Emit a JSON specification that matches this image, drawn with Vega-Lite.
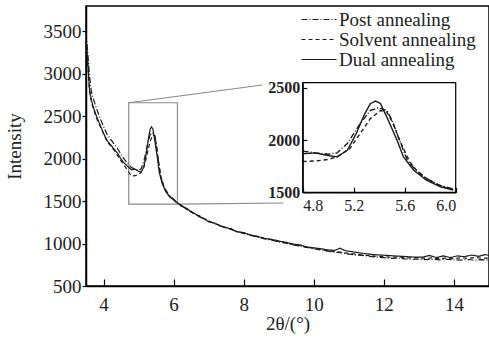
{
  "$schema": "https://vega.github.io/schema/vega-lite/v6.json",
  "width": 403,
  "height": 280,
  "autosize": {"type": "none"},
  "padding": {"left": 86, "top": 6, "right": 0, "bottom": 54},
  "background": "white",
  "config": {
    "font": "Liberation Serif",
    "view": {"stroke": "black", "strokeWidth": 1.5},
    "axis": {"grid": false, "domainColor": "black", "domainWidth": 1.5, "tickColor": "black", "tickWidth": 1.2, "labelColor": "#222", "titleColor": "#222", "labelFont": "Liberation Serif", "titleFont": "Liberation Serif", "titleFontWeight": "normal"},
    "legend": {"labelFont": "Liberation Serif", "padding": 0}
  },
  "datasets": {
    "curves": [
      {"x":3.5,"y":3420,"s":"Dual annealing"},{"x":3.55,"y":3150,"s":"Dual annealing"},{"x":3.6,"y":2820,"s":"Dual annealing"},{"x":3.65,"y":2700,"s":"Dual annealing"},{"x":3.7,"y":2620,"s":"Dual annealing"},{"x":3.8,"y":2500,"s":"Dual annealing"},{"x":3.9,"y":2400,"s":"Dual annealing"},{"x":4.0,"y":2300,"s":"Dual annealing"},{"x":4.1,"y":2215,"s":"Dual annealing"},{"x":4.2,"y":2165,"s":"Dual annealing"},{"x":4.3,"y":2115,"s":"Dual annealing"},{"x":4.4,"y":2065,"s":"Dual annealing"},{"x":4.5,"y":1995,"s":"Dual annealing"},{"x":4.6,"y":1945,"s":"Dual annealing"},{"x":4.7,"y":1905,"s":"Dual annealing"},{"x":4.8,"y":1870,"s":"Dual annealing"},{"x":4.9,"y":1877,"s":"Dual annealing"},{"x":5.0,"y":1852,"s":"Dual annealing"},{"x":5.07,"y":1839,"s":"Dual annealing"},{"x":5.15,"y":1903,"s":"Dual annealing"},{"x":5.22,"y":2062,"s":"Dual annealing"},{"x":5.28,"y":2236,"s":"Dual annealing"},{"x":5.33,"y":2348,"s":"Dual annealing"},{"x":5.37,"y":2375,"s":"Dual annealing"},{"x":5.41,"y":2350,"s":"Dual annealing"},{"x":5.46,"y":2220,"s":"Dual annealing"},{"x":5.5,"y":2110,"s":"Dual annealing"},{"x":5.54,"y":1998,"s":"Dual annealing"},{"x":5.59,"y":1840,"s":"Dual annealing"},{"x":5.67,"y":1712,"s":"Dual annealing"},{"x":5.77,"y":1617,"s":"Dual annealing"},{"x":5.88,"y":1553,"s":"Dual annealing"},{"x":5.98,"y":1522,"s":"Dual annealing"},{"x":6.1,"y":1480,"s":"Dual annealing"},{"x":6.2,"y":1455,"s":"Dual annealing"},{"x":6.3,"y":1430,"s":"Dual annealing"},{"x":6.4,"y":1410,"s":"Dual annealing"},{"x":6.5,"y":1370,"s":"Dual annealing"},{"x":6.6,"y":1355,"s":"Dual annealing"},{"x":6.75,"y":1310,"s":"Dual annealing"},{"x":6.9,"y":1290,"s":"Dual annealing"},{"x":7.0,"y":1255,"s":"Dual annealing"},{"x":7.15,"y":1245,"s":"Dual annealing"},{"x":7.3,"y":1215,"s":"Dual annealing"},{"x":7.5,"y":1190,"s":"Dual annealing"},{"x":7.65,"y":1170,"s":"Dual annealing"},{"x":7.8,"y":1140,"s":"Dual annealing"},{"x":8.0,"y":1130,"s":"Dual annealing"},{"x":8.2,"y":1100,"s":"Dual annealing"},{"x":8.4,"y":1085,"s":"Dual annealing"},{"x":8.6,"y":1060,"s":"Dual annealing"},{"x":8.8,"y":1050,"s":"Dual annealing"},{"x":9.0,"y":1030,"s":"Dual annealing"},{"x":9.2,"y":1015,"s":"Dual annealing"},{"x":9.4,"y":995,"s":"Dual annealing"},{"x":9.6,"y":985,"s":"Dual annealing"},{"x":9.8,"y":960,"s":"Dual annealing"},{"x":10.0,"y":950,"s":"Dual annealing"},{"x":10.2,"y":940,"s":"Dual annealing"},{"x":10.4,"y":925,"s":"Dual annealing"},{"x":10.6,"y":920,"s":"Dual annealing"},{"x":10.75,"y":945,"s":"Dual annealing"},{"x":10.9,"y":915,"s":"Dual annealing"},{"x":11.1,"y":905,"s":"Dual annealing"},{"x":11.3,"y":890,"s":"Dual annealing"},{"x":11.5,"y":880,"s":"Dual annealing"},{"x":11.7,"y":870,"s":"Dual annealing"},{"x":11.9,"y":865,"s":"Dual annealing"},{"x":12.1,"y":860,"s":"Dual annealing"},{"x":12.3,"y":855,"s":"Dual annealing"},{"x":12.5,"y":850,"s":"Dual annealing"},{"x":12.7,"y":845,"s":"Dual annealing"},{"x":12.9,"y":840,"s":"Dual annealing"},{"x":13.1,"y":840,"s":"Dual annealing"},{"x":13.3,"y":860,"s":"Dual annealing"},{"x":13.5,"y":835,"s":"Dual annealing"},{"x":13.7,"y":855,"s":"Dual annealing"},{"x":13.9,"y":835,"s":"Dual annealing"},{"x":14.1,"y":855,"s":"Dual annealing"},{"x":14.3,"y":845,"s":"Dual annealing"},{"x":14.5,"y":865,"s":"Dual annealing"},{"x":14.7,"y":850,"s":"Dual annealing"},{"x":14.9,"y":870,"s":"Dual annealing"},{"x":15.0,"y":860,"s":"Dual annealing"},

      {"x":3.5,"y":3480,"s":"Post annealing"},{"x":3.55,"y":3250,"s":"Post annealing"},{"x":3.6,"y":2980,"s":"Post annealing"},{"x":3.65,"y":2800,"s":"Post annealing"},{"x":3.7,"y":2720,"s":"Post annealing"},{"x":3.8,"y":2590,"s":"Post annealing"},{"x":3.9,"y":2480,"s":"Post annealing"},{"x":4.0,"y":2380,"s":"Post annealing"},{"x":4.1,"y":2290,"s":"Post annealing"},{"x":4.2,"y":2230,"s":"Post annealing"},{"x":4.3,"y":2175,"s":"Post annealing"},{"x":4.4,"y":2120,"s":"Post annealing"},{"x":4.5,"y":2050,"s":"Post annealing"},{"x":4.6,"y":1990,"s":"Post annealing"},{"x":4.7,"y":1940,"s":"Post annealing"},{"x":4.8,"y":1895,"s":"Post annealing"},{"x":4.9,"y":1878,"s":"Post annealing"},{"x":5.0,"y":1865,"s":"Post annealing"},{"x":5.07,"y":1878,"s":"Post annealing"},{"x":5.15,"y":1967,"s":"Post annealing"},{"x":5.25,"y":2157,"s":"Post annealing"},{"x":5.33,"y":2284,"s":"Post annealing"},{"x":5.39,"y":2309,"s":"Post annealing"},{"x":5.46,"y":2284,"s":"Post annealing"},{"x":5.5,"y":2190,"s":"Post annealing"},{"x":5.54,"y":2062,"s":"Post annealing"},{"x":5.62,"y":1808,"s":"Post annealing"},{"x":5.67,"y":1735,"s":"Post annealing"},{"x":5.77,"y":1632,"s":"Post annealing"},{"x":5.88,"y":1565,"s":"Post annealing"},{"x":5.98,"y":1532,"s":"Post annealing"},{"x":6.1,"y":1485,"s":"Post annealing"},{"x":6.2,"y":1450,"s":"Post annealing"},{"x":6.3,"y":1425,"s":"Post annealing"},{"x":6.4,"y":1400,"s":"Post annealing"},{"x":6.5,"y":1375,"s":"Post annealing"},{"x":6.6,"y":1350,"s":"Post annealing"},{"x":6.75,"y":1320,"s":"Post annealing"},{"x":6.9,"y":1280,"s":"Post annealing"},{"x":7.0,"y":1265,"s":"Post annealing"},{"x":7.15,"y":1240,"s":"Post annealing"},{"x":7.3,"y":1210,"s":"Post annealing"},{"x":7.5,"y":1185,"s":"Post annealing"},{"x":7.65,"y":1165,"s":"Post annealing"},{"x":7.8,"y":1145,"s":"Post annealing"},{"x":8.0,"y":1120,"s":"Post annealing"},{"x":8.2,"y":1095,"s":"Post annealing"},{"x":8.4,"y":1075,"s":"Post annealing"},{"x":8.6,"y":1055,"s":"Post annealing"},{"x":8.8,"y":1040,"s":"Post annealing"},{"x":9.0,"y":1020,"s":"Post annealing"},{"x":9.2,"y":1005,"s":"Post annealing"},{"x":9.4,"y":985,"s":"Post annealing"},{"x":9.6,"y":970,"s":"Post annealing"},{"x":9.8,"y":955,"s":"Post annealing"},{"x":10.0,"y":940,"s":"Post annealing"},{"x":10.2,"y":925,"s":"Post annealing"},{"x":10.4,"y":910,"s":"Post annealing"},{"x":10.6,"y":900,"s":"Post annealing"},{"x":10.8,"y":890,"s":"Post annealing"},{"x":11.0,"y":875,"s":"Post annealing"},{"x":11.2,"y":865,"s":"Post annealing"},{"x":11.4,"y":860,"s":"Post annealing"},{"x":11.6,"y":850,"s":"Post annealing"},{"x":11.8,"y":840,"s":"Post annealing"},{"x":12.0,"y":835,"s":"Post annealing"},{"x":12.2,"y":825,"s":"Post annealing"},{"x":12.4,"y":830,"s":"Post annealing"},{"x":12.6,"y":820,"s":"Post annealing"},{"x":12.8,"y":815,"s":"Post annealing"},{"x":13.0,"y":818,"s":"Post annealing"},{"x":13.2,"y":810,"s":"Post annealing"},{"x":13.4,"y":815,"s":"Post annealing"},{"x":13.6,"y":808,"s":"Post annealing"},{"x":13.8,"y":815,"s":"Post annealing"},{"x":14.0,"y":810,"s":"Post annealing"},{"x":14.2,"y":805,"s":"Post annealing"},{"x":14.4,"y":812,"s":"Post annealing"},{"x":14.6,"y":805,"s":"Post annealing"},{"x":14.8,"y":810,"s":"Post annealing"},{"x":15.0,"y":805,"s":"Post annealing"},

      {"x":3.5,"y":3380,"s":"Solvent annealing"},{"x":3.55,"y":3100,"s":"Solvent annealing"},{"x":3.6,"y":2790,"s":"Solvent annealing"},{"x":3.65,"y":2680,"s":"Solvent annealing"},{"x":3.7,"y":2600,"s":"Solvent annealing"},{"x":3.8,"y":2480,"s":"Solvent annealing"},{"x":3.9,"y":2385,"s":"Solvent annealing"},{"x":4.0,"y":2295,"s":"Solvent annealing"},{"x":4.1,"y":2205,"s":"Solvent annealing"},{"x":4.2,"y":2150,"s":"Solvent annealing"},{"x":4.3,"y":2100,"s":"Solvent annealing"},{"x":4.4,"y":2040,"s":"Solvent annealing"},{"x":4.5,"y":1975,"s":"Solvent annealing"},{"x":4.6,"y":1915,"s":"Solvent annealing"},{"x":4.7,"y":1855,"s":"Solvent annealing"},{"x":4.8,"y":1795,"s":"Solvent annealing"},{"x":4.9,"y":1800,"s":"Solvent annealing"},{"x":5.0,"y":1815,"s":"Solvent annealing"},{"x":5.07,"y":1839,"s":"Solvent annealing"},{"x":5.17,"y":1919,"s":"Solvent annealing"},{"x":5.25,"y":2062,"s":"Solvent annealing"},{"x":5.33,"y":2205,"s":"Solvent annealing"},{"x":5.41,"y":2284,"s":"Solvent annealing"},{"x":5.46,"y":2268,"s":"Solvent annealing"},{"x":5.51,"y":2157,"s":"Solvent annealing"},{"x":5.56,"y":1998,"s":"Solvent annealing"},{"x":5.64,"y":1791,"s":"Solvent annealing"},{"x":5.7,"y":1700,"s":"Solvent annealing"},{"x":5.77,"y":1633,"s":"Solvent annealing"},{"x":5.88,"y":1560,"s":"Solvent annealing"},{"x":5.98,"y":1525,"s":"Solvent annealing"},{"x":6.1,"y":1478,"s":"Solvent annealing"},{"x":6.2,"y":1450,"s":"Solvent annealing"},{"x":6.3,"y":1425,"s":"Solvent annealing"},{"x":6.4,"y":1395,"s":"Solvent annealing"},{"x":6.5,"y":1380,"s":"Solvent annealing"},{"x":6.6,"y":1345,"s":"Solvent annealing"},{"x":6.75,"y":1325,"s":"Solvent annealing"},{"x":6.9,"y":1285,"s":"Solvent annealing"},{"x":7.0,"y":1270,"s":"Solvent annealing"},{"x":7.15,"y":1235,"s":"Solvent annealing"},{"x":7.3,"y":1220,"s":"Solvent annealing"},{"x":7.5,"y":1180,"s":"Solvent annealing"},{"x":7.65,"y":1175,"s":"Solvent annealing"},{"x":7.8,"y":1140,"s":"Solvent annealing"},{"x":8.0,"y":1125,"s":"Solvent annealing"},{"x":8.2,"y":1100,"s":"Solvent annealing"},{"x":8.4,"y":1080,"s":"Solvent annealing"},{"x":8.6,"y":1060,"s":"Solvent annealing"},{"x":8.8,"y":1045,"s":"Solvent annealing"},{"x":9.0,"y":1025,"s":"Solvent annealing"},{"x":9.2,"y":1010,"s":"Solvent annealing"},{"x":9.4,"y":990,"s":"Solvent annealing"},{"x":9.6,"y":975,"s":"Solvent annealing"},{"x":9.8,"y":960,"s":"Solvent annealing"},{"x":10.0,"y":945,"s":"Solvent annealing"},{"x":10.2,"y":930,"s":"Solvent annealing"},{"x":10.4,"y":915,"s":"Solvent annealing"},{"x":10.6,"y":905,"s":"Solvent annealing"},{"x":10.8,"y":895,"s":"Solvent annealing"},{"x":11.0,"y":885,"s":"Solvent annealing"},{"x":11.2,"y":875,"s":"Solvent annealing"},{"x":11.4,"y":865,"s":"Solvent annealing"},{"x":11.6,"y":858,"s":"Solvent annealing"},{"x":11.8,"y":850,"s":"Solvent annealing"},{"x":12.0,"y":845,"s":"Solvent annealing"},{"x":12.2,"y":838,"s":"Solvent annealing"},{"x":12.4,"y":842,"s":"Solvent annealing"},{"x":12.6,"y":832,"s":"Solvent annealing"},{"x":12.8,"y":830,"s":"Solvent annealing"},{"x":13.0,"y":835,"s":"Solvent annealing"},{"x":13.2,"y":825,"s":"Solvent annealing"},{"x":13.4,"y":832,"s":"Solvent annealing"},{"x":13.6,"y":822,"s":"Solvent annealing"},{"x":13.8,"y":830,"s":"Solvent annealing"},{"x":14.0,"y":825,"s":"Solvent annealing"},{"x":14.2,"y":832,"s":"Solvent annealing"},{"x":14.4,"y":825,"s":"Solvent annealing"},{"x":14.6,"y":835,"s":"Solvent annealing"},{"x":14.8,"y":828,"s":"Solvent annealing"},{"x":15.0,"y":830,"s":"Solvent annealing"}
    ],
    "one": [{}]
  },
  "layer": [
    {
      "layer": [
        {
          "data": {"name": "one"},
          "mark": {"type": "rect", "fill": null, "fillOpacity": 0, "stroke": "#8a8a8a", "strokeWidth": 1.2},
          "encoding": {
            "x": {"datum": 4.72, "type": "quantitative"},
            "x2": {"datum": 6.11},
            "y": {"datum": 1466, "type": "quantitative"},
            "y2": {"datum": 2660}
          }
        },
        {
          "data": {"name": "one"},
          "mark": {"type": "rule", "stroke": "#8a8a8a", "strokeWidth": 1.2},
          "encoding": {
            "x": {"datum": 4.72, "type": "quantitative"},
            "x2": {"datum": 8.53},
            "y": {"datum": 2660, "type": "quantitative"},
            "y2": {"datum": 2869}
          }
        },
        {
          "data": {"name": "one"},
          "mark": {"type": "rule", "stroke": "#8a8a8a", "strokeWidth": 1.2},
          "encoding": {
            "x": {"datum": 6.11, "type": "quantitative"},
            "x2": {"datum": 9.13},
            "y": {"datum": 1466, "type": "quantitative"},
            "y2": {"datum": 1478}
          }
        },
        {
          "data": {"name": "curves"},
          "mark": {"type": "line", "stroke": "#1a1a1a", "strokeWidth": 1.2, "clip": true},
          "encoding": {
            "x": {"field": "x", "type": "quantitative", "scale": {"domain": [3.5, 15], "nice": false, "zero": false},
                  "axis": {"orient": "bottom", "values": [4, 6, 8, 10, 12, 14], "format": "d", "tickSize": -7, "labelPadding": 16, "labelFont": "Liberation Serif", "labelFontSize": 19, "title": "2θ/(°)", "titleFont": "Liberation Serif", "titleFontSize": 19, "titlePadding": 0}},
            "y": {"field": "y", "type": "quantitative", "scale": {"domain": [500, 3800], "nice": false, "zero": false},
                  "axis": {"orient": "left", "values": [500, 1000, 1500, 2000, 2500, 3000, 3500], "format": "d", "tickSize": 4, "labelPadding": 1, "labelFont": "Liberation Serif", "labelFontSize": 19, "title": "Intensity", "titleFont": "Liberation Serif", "titleFontSize": 19, "titlePadding": 19}},
            "strokeDash": {"field": "s", "type": "nominal",
              "scale": {"domain": ["Post annealing", "Solvent annealing", "Dual annealing"], "range": [[6, 2, 1, 2], [4, 3], [1, 0]]},
              "legend": {"orient": "none", "legendX": 233, "legendY": 4, "title": null, "symbolType": "M-3.375,0H1", "symbolSize": 256, "symbolStrokeColor": "black", "symbolFillColor": "transparent", "symbolStrokeWidth": 1.2, "labelFontSize": 19, "labelFont": "Liberation Serif", "labelColor": "#222", "labelOffset": 1, "rowPadding": 0, "padding": 0}},
            "detail": {"field": "s"}
          }
        }
      ]
    },
    {
      "layer": [
        {
          "data": {"name": "one"},
          "mark": {"type": "rect", "fill": null, "fillOpacity": 0, "stroke": "black", "strokeWidth": 1.2},
          "encoding": {
            "x": {"datum": 4.8, "type": "quantitative", "scale": {"domain": [4.8, 6.0], "range": [216.7, 369.7], "nice": false, "zero": false},
                  "axis": {"orient": "bottom", "offset": -93.7, "values": [4.8, 5.2, 5.6, 6.0], "format": ".1f", "tickSize": -5, "labelPadding": 10, "labelFont": "Liberation Serif", "labelFontSize": 16, "title": null, "domainWidth": 1.2, "zindex": 1}},
            "x2": {"datum": 6.0},
            "y": {"datum": 1500, "type": "quantitative", "scale": {"domain": [1500, 2550], "range": [186.3, 76.7], "nice": false, "zero": false},
                  "axis": {"orient": "left", "offset": -216.7, "values": [1500, 2000, 2500], "format": "d", "tickSize": -4, "labelPadding": 7, "labelFont": "Liberation Serif", "labelFontSize": 16, "labelFontWeight": "bold", "title": null, "domainWidth": 1.2, "zindex": 1}},
            "y2": {"datum": 2550}
          }
        },
        {
          "data": {"name": "curves"},
          "transform": [{"filter": "datum.x >= 4.8 && datum.x <= 6.0"}],
          "mark": {"type": "line", "stroke": "#1a1a1a", "strokeWidth": 1.4},
          "encoding": {
            "x": {"field": "x", "type": "quantitative"},
            "y": {"field": "y", "type": "quantitative"},
            "strokeDash": {"field": "s", "type": "nominal"},
            "detail": {"field": "s"}
          }
        }
      ]
    }
  ],
  "resolve": {"scale": {"x": "independent", "y": "independent"}, "axis": {"x": "independent", "y": "independent"}}
}
